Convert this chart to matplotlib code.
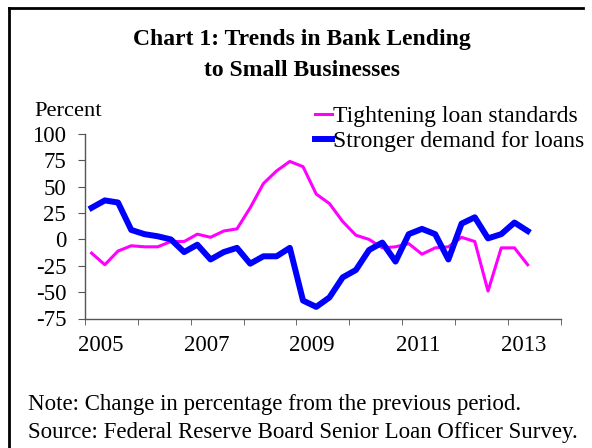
import numpy as np
import matplotlib.pyplot as plt
from matplotlib.lines import Line2D

# quarterly survey readings, 2005Q1 .. 2013Q2
quarters = np.arange(34)
tightening = [-13, -24, -11, -6, -7, -7, -2, -2, 5, 2, 8, 10, 30, 53, 65, 74,
              69, 43, 34, 17, 4, 0, -8, -7, -4, -14, -8, -7, 2, -2, -49, -8,
              -8, -24]
demand = [30, 37, 35, 9, 5, 3, 0, -12, -5, -19, -12, -8, -23, -16, -16, -8,
          -58, -64, -55, -36, -29, -10, -3, -21, 5, 10, 5, -19, 15, 21, 1, 5,
          16, 8]
year_labels = ['2005', '2007', '2009', '2011', '2013']
y_ticks = [-75, -50, -25, 0, 25, 50, 75, 100]

plt.rcParams['font.family'] = ['Liberation Serif', 'DejaVu Serif']
plt.rcParams['axes.unicode_minus'] = False

fig = plt.figure(figsize=(5.92, 4.48), dpi=100)
ax = fig.add_axes([85/592, 1 - 318.5/448, (560.7 - 85)/592, (318.5 - 134)/448])

ax.plot(quarters, tightening, color='#FF00FF', lw=2.2, label='Tightening loan standards')
ax.plot(quarters, demand, color='#0000FF', lw=4.3, label='Stronger demand for loans')

ax.set_xlim(-0.5, 35.5)
ax.set_ylim(-75, 100)

# year boundary ticks every 4 quarters, labels every 2 years
ax.set_xticks(np.arange(-0.5, 36, 4), minor=True)
ax.set_xticks(np.arange(0.7, 34, 8))
ax.set_xticklabels(year_labels)
ax.tick_params(axis='x', which='major', length=0, pad=12, labelsize=16.5)
ax.tick_params(axis='x', which='minor', length=4.5, direction='out', color='#555555')
ax.set_yticks(y_ticks)
ax.tick_params(axis='y', length=5, direction='out', pad=8.5, labelsize=16.5, color='#555555')

for s in ['top', 'right']:
    ax.spines[s].set_visible(False)
for s in ['left', 'bottom']:
    ax.spines[s].set_color('#555555')
    ax.spines[s].set_linewidth(1)

ax.legend(loc='upper left', bbox_to_anchor=(315/592, 1 - 105.5/448),
          bbox_transform=fig.transFigure, frameon=False, fontsize=17,
          handlelength=0.72, handletextpad=0.05, labelspacing=0.14, borderpad=0,
          borderaxespad=0)

# two-line bold title
fig.text(302/592, 1 - 40/448, 'Chart 1: Trends in Bank Lending',
         ha='center', va='center', fontsize=17, fontweight='bold')
fig.text(302/592, 1 - 71/448, 'to Small Businesses',
         ha='center', va='center', fontsize=17, fontweight='bold')
fig.text(34/592, 1 - 112/448, 'Percent', ha='left', va='center', fontsize=16.2)
fig.text(28/592, 1 - 404/448, 'Note: Change in percentage from the previous period.',
         ha='left', va='center', fontsize=16.5)
fig.text(28/592, 1 - 432/448, 'Source: Federal Reserve Board Senior Loan Officer Survey.',
         ha='left', va='center', fontsize=16.5)

# outer frame: top and left edges only
fig.add_artist(Line2D([9/592, 583/592], [1 - 8/448, 1 - 8/448], color='black', lw=2,
                      transform=fig.transFigure))
fig.add_artist(Line2D([9/592, 9/592], [1 - 8/448, 0], color='black', lw=2,
                      transform=fig.transFigure))

fig.savefig('out.png', dpi=100)
